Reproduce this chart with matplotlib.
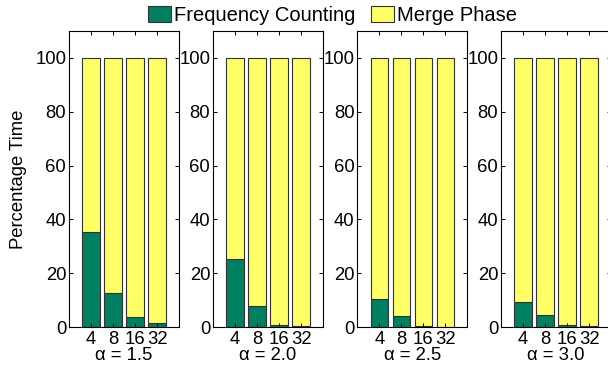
import matplotlib
matplotlib.use("Agg")
import matplotlib.pyplot as plt
from matplotlib.patches import Patch

plt.rcParams['font.family'] = ['Liberation Sans', 'DejaVu Sans']

# Share of runtime spent in each phase, per skew parameter alpha
alphas = ["1.5", "2.0", "2.5", "3.0"]
threads = ["4", "8", "16", "32"]
freq_counting = [
    [35.3, 12.5, 3.6, 1.6],
    [25.3, 7.9, 0.6, 0.2],
    [10.3, 4.0, 0.4, 0.1],
    [9.3, 4.5, 0.9, 0.2],
]
merge_phase = [[100 - v for v in row] for row in freq_counting]

green = "#008060"
yellow = "#ffff66"
edge = "#333333"

fig = plt.figure(figsize=(6.08, 3.66), dpi=100)

W, H = 608, 366
lefts = [69, 213, 357.3, 501]
ax_w = 110
ax_bottom, ax_top = 327, 31

fs = 13.3
axes = []
for i, a in enumerate(alphas):
    ax = fig.add_axes([lefts[i] / W, (H - ax_bottom) / H,
                       ax_w / W, (ax_bottom - ax_top) / H])
    x = list(range(1, len(threads) + 1))
    ax.bar(x, freq_counting[i], width=0.8, color=green, edgecolor=edge, linewidth=0.8)
    ax.bar(x, merge_phase[i], width=0.8, bottom=freq_counting[i], color=yellow,
           edgecolor=edge, linewidth=0.8)
    ax.set_xlim(0, 5)
    ax.set_ylim(0, 110)
    ax.set_xticks(x)
    ax.set_xticklabels(threads, fontsize=fs)
    ax.set_yticks([0, 20, 40, 60, 80, 100])
    ax.set_yticklabels(["0", "20", "40", "60", "80", "100"], fontsize=fs)
    ax.tick_params(direction='in', length=3, width=0.7, top=True, right=True,
                   pad=2, colors='black')
    ax.tick_params(axis='x', pad=3)
    for s in ax.spines.values():
        s.set_linewidth(0.8)
    ax.set_xlabel("\u03b1 = " + a, fontsize=fs, labelpad=-1)
    axes.append(ax)

axes[0].set_ylabel("Percentage Time", fontsize=fs, labelpad=6)

handles = [Patch(facecolor=green, edgecolor=edge, linewidth=0.8),
           Patch(facecolor=yellow, edgecolor=edge, linewidth=0.8)]
fig.legend(handles, ["Frequency Counting", "Merge Phase"], loc='center',
           bbox_to_anchor=(0.547, 0.958), ncol=2, frameon=False, fontsize=14.5,
           handlelength=1.15, handleheight=0.8, handletextpad=0.15,
           columnspacing=0.8, borderpad=0)

fig.savefig("out.png", dpi=100)
